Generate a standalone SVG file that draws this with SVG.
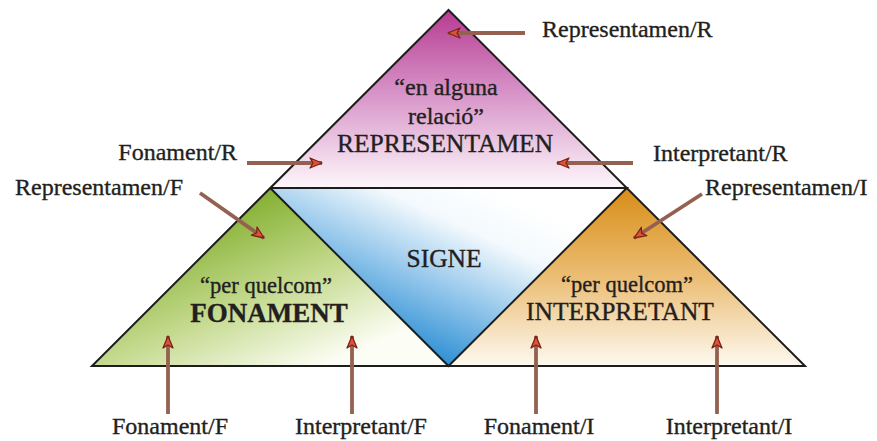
<svg xmlns="http://www.w3.org/2000/svg" width="877" height="441" viewBox="0 0 877 441">
  <defs>
    <linearGradient id="gR" x1="0" y1="10" x2="0" y2="188" gradientUnits="userSpaceOnUse">
      <stop offset="0" stop-color="#b73b92"/>
      <stop offset="0.45" stop-color="#d690c6"/>
      <stop offset="1" stop-color="#fdf7fb"/>
    </linearGradient>
    <linearGradient id="gF" x1="250" y1="200" x2="320" y2="366" gradientUnits="userSpaceOnUse">
      <stop offset="0" stop-color="#86b134"/>
      <stop offset="0.5" stop-color="#c3d98c"/>
      <stop offset="1" stop-color="#fcfdf4"/>
    </linearGradient>
    <linearGradient id="gI" x1="0" y1="188" x2="0" y2="366" gradientUnits="userSpaceOnUse">
      <stop offset="0" stop-color="#d88d17"/>
      <stop offset="0.5" stop-color="#ebbd74"/>
      <stop offset="1" stop-color="#fdf9f0"/>
    </linearGradient>
    <linearGradient id="gS" x1="500" y1="192" x2="420" y2="366" gradientUnits="userSpaceOnUse">
      <stop offset="0" stop-color="#ffffff"/>
      <stop offset="0.25" stop-color="#f3f9fd"/>
      <stop offset="0.6" stop-color="#8fc4ea"/>
      <stop offset="1" stop-color="#1c86d0"/>
    </linearGradient>
    <marker id="ah" viewBox="0 0 14 12" refX="13" refY="6" markerWidth="14" markerHeight="12" orient="auto" markerUnits="userSpaceOnUse">
      <path d="M1,1 L13,6 L1,11 L4,6 Z" fill="#e2503a" stroke="#7a2416" stroke-width="1.3" stroke-linejoin="round"/>
    </marker>
  </defs>
  <style>
    .t { font-family: "Liberation Serif", "Times New Roman", serif; fill: #231f20; stroke: #231f20; stroke-width: 0.35; }
    .lbl { font-size: 24px; }
    .edge { fill: none; stroke: #1d1d1d; stroke-width: 2; stroke-linejoin: miter; }
    .arr { fill: none; stroke: #94604f; stroke-width: 3.8; marker-end: url(#ah); }
  </style>

  <g id="representamen">
    <polygon points="448.5,10 270.25,188 626.75,188" fill="url(#gR)"/>
    <text class="t" x="446" y="95" font-size="24" text-anchor="middle">“en alguna</text>
    <text class="t" x="446" y="124" font-size="24" text-anchor="middle">relació”</text>
    <text class="t" x="445" y="152" font-size="25.5" text-anchor="middle">REPRESENTAMEN</text>
  </g>
  <g id="fonament">
    <polygon points="270.25,188 92,366 448.5,366" fill="url(#gF)"/>
    <text class="t" x="266" y="293" font-size="22.5" text-anchor="middle">“per quelcom”</text>
    <text class="t" x="269" y="322" font-size="27" font-weight="bold" text-anchor="middle">FONAMENT</text>
  </g>
  <g id="interpretant">
    <polygon points="626.75,188 448.5,366 805,366" fill="url(#gI)"/>
    <text class="t" x="627" y="292" font-size="22.5" text-anchor="middle">“per quelcom”</text>
    <text class="t" x="620" y="320" font-size="25.5" text-anchor="middle">INTERPRETANT</text>
  </g>
  <g id="signe">
    <polygon points="270.25,188 626.75,188 448.5,366" fill="url(#gS)"/>
    <text class="t" x="444" y="267" font-size="25.5" text-anchor="middle">SIGNE</text>
  </g>
  <g id="outline">
    <polygon class="edge" points="448.5,10 92,366 805,366"/>
    <polyline class="edge" points="270.25,188 448.5,366 626.75,188 270.25,188"/>
    <line class="edge" x1="92" y1="366" x2="805" y2="366" stroke-width="2.6"/>
  </g>

  <g id="label-representamen-r"><text class="t lbl" x="542" y="37">Representamen/R</text></g>
  <g id="label-fonament-r"><text class="t lbl" x="237" y="160" text-anchor="end">Fonament/R</text></g>
  <g id="label-interpretant-r"><text class="t lbl" x="653" y="161">Interpretant/R</text></g>
  <g id="label-representamen-f"><text class="t lbl" x="183" y="195" text-anchor="end">Representamen/F</text></g>
  <g id="label-representamen-i"><text class="t lbl" x="705" y="195">Representamen/I</text></g>
  <g id="label-fonament-f"><text class="t lbl" x="170" y="434" text-anchor="middle">Fonament/F</text></g>
  <g id="label-interpretant-f"><text class="t lbl" x="361" y="434" text-anchor="middle">Interpretant/F</text></g>
  <g id="label-fonament-i"><text class="t lbl" x="539" y="434" text-anchor="middle">Fonament/I</text></g>
  <g id="label-interpretant-i"><text class="t lbl" x="729" y="434" text-anchor="middle">Interpretant/I</text></g>

  <g id="connectors">
    <line class="arr" x1="525" y1="33" x2="448" y2="33"/>
    <line class="arr" x1="247" y1="163" x2="322" y2="163"/>
    <line class="arr" x1="633" y1="163" x2="557" y2="163"/>
    <line class="arr" x1="200" y1="193" x2="264" y2="238"/>
    <line class="arr" x1="702" y1="194" x2="634" y2="238"/>
    <line class="arr" x1="168" y1="414" x2="168" y2="336"/>
    <line class="arr" x1="352" y1="414" x2="352" y2="336"/>
    <line class="arr" x1="536" y1="414" x2="536" y2="336"/>
    <line class="arr" x1="717" y1="414" x2="717" y2="336"/>
  </g>
</svg>
